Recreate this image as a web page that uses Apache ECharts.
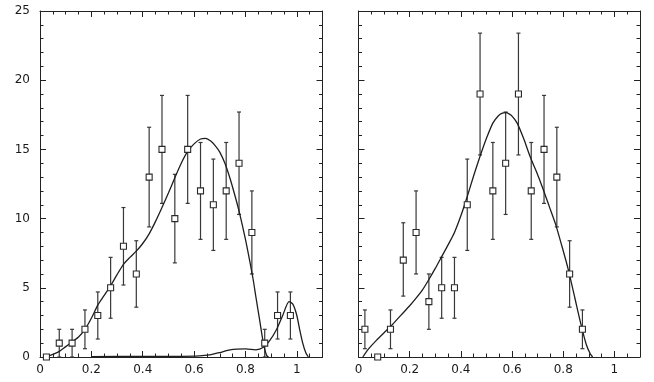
<!DOCTYPE html>
<html>
<head>
<meta charset="utf-8">
<script src="https://cdn.jsdelivr.net/npm/echarts@6/dist/echarts.min.js"></script>
<style>
html, body { margin: 0; padding: 0; background: #fff; }
#chart { width: 654px; height: 382px; }
</style>
</head>
<body>
<div id="chart"></div>
<script>
// left panel: measured points (bin centres) with error bars
var leftX   = [0.025, 0.075, 0.125, 0.175, 0.225, 0.275, 0.325, 0.375, 0.425, 0.475,
               0.525, 0.575, 0.625, 0.675, 0.725, 0.775, 0.825, 0.875, 0.925, 0.975];
var leftVal = [0, 1, 1, 2, 3, 5, 8, 6, 13, 15, 10, 15, 12, 11, 12, 14, 9, 1, 3, 3];
var leftLo  = [0, 0, 0, 0.6, 1.3, 2.8, 5.2, 3.6, 9.4, 11.1, 6.8, 11.1, 8.5, 7.7, 8.5, 10.3, 6, 0, 1.3, 1.3];
var leftHi  = [0, 2, 2, 3.4, 4.7, 7.2, 10.8, 8.4, 16.6, 18.9, 13.2, 18.9, 15.5, 14.3, 15.5, 17.7, 12, 2, 4.7, 4.7];

// left panel: fitted curves
var leftCurveX = [0.013, 0.04, 0.07, 0.1, 0.125, 0.15, 0.175, 0.2, 0.225, 0.25, 0.275, 0.3, 0.325, 0.35,
                  0.375, 0.4, 0.425, 0.45, 0.475, 0.5, 0.525, 0.55, 0.575, 0.6, 0.625, 0.645, 0.665,
                  0.685, 0.7, 0.72, 0.74, 0.76, 0.777, 0.8, 0.816, 0.83, 0.841, 0.855, 0.867, 0.876,
                  0.883, 0.89];
var leftCurveY = [0, 0.12, 0.35, 0.75, 1.1, 1.45, 2.0, 2.8, 3.75, 4.45, 5.15, 5.95, 6.7, 7.2,
                  7.65, 8.2, 8.9, 9.8, 10.8, 11.85, 12.95, 14.0, 14.85, 15.4, 15.75, 15.8, 15.6,
                  15.2, 14.8, 14.0, 12.9, 11.6, 10.4, 8.5, 7.0, 5.6, 4.3, 2.7, 1.3, 0.5,
                  0.1, 0];
var bumpX = [0.2, 0.4, 0.55, 0.62, 0.66, 0.7, 0.74, 0.8, 0.84, 0.87, 0.895, 0.92, 0.945, 0.97, 0.985,
             1.0, 1.012, 1.023, 1.035, 1.045];
var bumpY = [0.03, 0.04, 0.05, 0.08, 0.15, 0.32, 0.52, 0.58, 0.52, 0.7, 1.2, 1.95, 3.0, 4.0, 3.8,
             3.0, 1.9, 1.0, 0.3, 0];

// right panel: measured points with error bars
var rightX   = [0.025, 0.075, 0.125, 0.175, 0.225, 0.275, 0.325, 0.375, 0.425, 0.475,
                0.525, 0.575, 0.625, 0.675, 0.725, 0.775, 0.825, 0.875];
var rightVal = [2, 0, 2, 7, 9, 4, 5, 5, 11, 19, 12, 14, 19, 12, 15, 13, 6, 2];
var rightLo  = [0.6, 0, 0.6, 4.4, 6, 2, 2.8, 2.8, 7.7, 14.6, 8.5, 10.3, 14.6, 8.5, 11.1, 9.4, 3.6, 0.6];
var rightHi  = [3.4, 0, 3.4, 9.7, 12, 6, 7.2, 7.2, 14.3, 23.4, 15.5, 17.7, 23.4, 15.5, 18.9, 16.6, 8.4, 3.4];

// right panel: fitted curve
var rightCurveX = [0.017, 0.04, 0.07, 0.1, 0.125, 0.15, 0.175, 0.2, 0.225, 0.25, 0.275, 0.3, 0.325,
                   0.35, 0.375, 0.4, 0.425, 0.45, 0.475, 0.5, 0.525, 0.545, 0.56, 0.575, 0.59, 0.6,
                   0.62, 0.645, 0.67, 0.695, 0.72, 0.745, 0.77, 0.795, 0.82, 0.845, 0.87, 0.89,
                   0.905, 0.915];
var rightCurveY = [0, 0.6, 1.2, 1.75, 2.2, 2.7, 3.2, 3.7, 4.25, 4.85, 5.6, 6.4, 7.25,
                   8.1, 9.0, 10.2, 11.6, 13.1, 14.5, 15.8, 16.9, 17.4, 17.6, 17.65, 17.55, 17.4,
                   16.9, 15.8, 14.5, 13.4, 12.2, 10.9, 9.6, 8.0, 6.3, 4.3, 2.3, 0.9,
                   0.25, 0];

var xTicks = { min: 0, max: 1.1, interval: 0.2 };
var yTicks = { min: 0, max: 25, interval: 5 };

function pairs(xs, ys) {
  return xs.map(function (x, i) { return [x, ys[i]]; });
}
function bars(xs, lo, hi) {
  var out = [];
  xs.forEach(function (x, i) {
    if (hi[i] > lo[i]) out.push([x, lo[i], hi[i]]);
  });
  return out;
}

function errorBarItem(params, api) {
  var x = api.value(0);
  var bot = api.coord([x, api.value(1)]);
  var top = api.coord([x, api.value(2)]);
  var w = 2;
  var st = { stroke: '#383838', lineWidth: 1.2 };
  return {
    type: 'group',
    children: [
      { type: 'line', shape: { x1: top[0], y1: top[1], x2: bot[0], y2: bot[1] }, style: st },
      { type: 'line', shape: { x1: top[0] - w, y1: top[1], x2: top[0] + w, y2: top[1] }, style: st },
      { type: 'line', shape: { x1: bot[0] - w, y1: bot[1], x2: bot[0] + w, y2: bot[1] }, style: st }
    ]
  };
}

var lineCol = '#222';
var font = { fontFamily: 'DejaVu Sans', fontSize: 12, color: '#1a1a1a' };

function xAx(grid, pos, labels) {
  return {
    type: 'value', gridIndex: grid, position: pos,
    min: xTicks.min, max: xTicks.max, interval: xTicks.interval,
    axisLine: { show: true, onZero: false, lineStyle: { color: lineCol, width: 1 } },
    axisTick: { show: true, inside: true, length: 6, lineStyle: { color: lineCol } },
    minorTick: { show: true, splitNumber: 4, length: 3.5, lineStyle: { color: lineCol } },
    axisLabel: Object.assign({ show: labels, margin: 7, showMaxLabel: false }, font),
    splitLine: { show: false }
  };
}
function yAx(grid, pos, labels) {
  return {
    type: 'value', gridIndex: grid, position: pos,
    min: yTicks.min, max: yTicks.max, interval: yTicks.interval,
    axisLine: { show: true, onZero: false, lineStyle: { color: lineCol, width: 1 } },
    axisTick: { show: true, inside: true, length: 6, lineStyle: { color: lineCol } },
    minorTick: { show: true, splitNumber: 5, length: 3.5, lineStyle: { color: lineCol } },
    axisLabel: Object.assign({ show: labels, margin: 10 }, font),
    splitLine: { show: false }
  };
}

function curve(xi, yi, data) {
  return {
    type: 'line', xAxisIndex: xi, yAxisIndex: yi, data: data,
    smooth: 0.25, showSymbol: false, symbol: 'none',
    lineStyle: { color: '#1e1e1e', width: 1.3 }, z: 3
  };
}
function errs(xi, yi, data) {
  return {
    type: 'custom', xAxisIndex: xi, yAxisIndex: yi, data: data,
    renderItem: errorBarItem, encode: { x: 0, y: [1, 2] }, z: 2
  };
}
function pts(xi, yi, data) {
  return {
    type: 'scatter', xAxisIndex: xi, yAxisIndex: yi, data: data,
    symbol: 'rect', symbolSize: 6,
    itemStyle: { color: '#fff', borderColor: '#2a2a2a', borderWidth: 1.1, opacity: 1 }, z: 4
  };
}

var chart = echarts.init(document.getElementById('chart'), null, { renderer: 'canvas' });
chart.setOption({
  animation: false,
  backgroundColor: '#fff',
  grid: [
    { left: 40, top: 11, width: 282.5, height: 346 },
    { left: 358.5, top: 11, width: 281.5, height: 346 }
  ],
  xAxis: [xAx(0, 'bottom', true), xAx(0, 'top', false), xAx(1, 'bottom', true), xAx(1, 'top', false)],
  yAxis: [yAx(0, 'left', true), yAx(0, 'right', false), yAx(1, 'left', false), yAx(1, 'right', false)],
  series: [
    errs(0, 0, bars(leftX, leftLo, leftHi)),
    curve(0, 0, pairs(leftCurveX, leftCurveY)),
    curve(0, 0, pairs(bumpX, bumpY)),
    pts(0, 0, pairs(leftX, leftVal)),
    errs(2, 2, bars(rightX, rightLo, rightHi)),
    curve(2, 2, pairs(rightCurveX, rightCurveY)),
    pts(2, 2, pairs(rightX, rightVal))
  ]
});
</script>
</body>
</html>
